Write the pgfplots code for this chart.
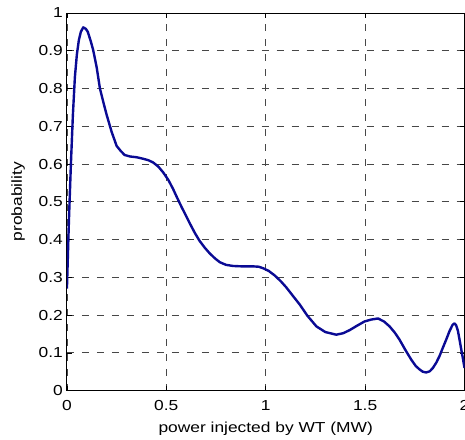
\documentclass[border=0pt]{standalone}
\usepackage{pgfplots}
\pgfplotsset{compat=1.18}
\usepackage{fontspec}
\setmainfont{Liberation Sans}[FakeStretch=1.2]
\usetikzlibrary{calc}
\definecolor{curveblue}{rgb}{0.04,0.04,0.58}
\begin{document}
\begin{tikzpicture}
\begin{axis}[
  name=ax,
  scale only axis,
  width=398pt, height=378pt,
  xmin=0, xmax=2, ymin=0, ymax=1,
  xtick={0,0.5,...,2}, ytick={0,0.1,...,1},
  xticklabels={0,0.5,1,1.5,2},
  yticklabels={0,0.1,0.2,0.3,0.4,0.5,0.6,0.7,0.8,0.9,1},
  tick align=inside,
  major tick length=5pt,
  tick style={black, line width=0.6pt},
  axis line style={black, line width=0.9pt},
  grid=major,
  major grid style={black!72, line width=0.7pt, dash pattern=on 7pt off 8pt},
  tick label style={font=\fontsize{14.5}{17}\selectfont},
  label style={font=\fontsize{14.5}{17}\selectfont},
  xticklabel style={overlay, anchor=base, yshift=-20pt},
  yticklabel style={xshift=-0.5pt},
  xlabel={power injected by WT (MW)},
  ylabel={probability},
  xlabel style={at={(axis description cs:0.5,-0.1111)}, anchor=base},
  ylabel style={at={(axis description cs:-0.1131,0.5)}, anchor=base},
  clip=true,
]
\addplot[curveblue, line width=2.4pt, line join=round] coordinates {
(0,0.27) (0.01,0.45) (0.02,0.60) (0.03,0.73) (0.04,0.83) (0.05,0.89)
(0.06,0.928) (0.07,0.950) (0.082,0.962) (0.095,0.958) (0.105,0.950)
(0.12,0.925) (0.132,0.902) (0.15,0.855) (0.166,0.80) (0.185,0.76)
(0.2,0.73) (0.225,0.685) (0.25,0.648) (0.27,0.635) (0.29,0.624)
(0.317,0.620) (0.35,0.618) (0.383,0.614) (0.41,0.610) (0.434,0.604)
(0.46,0.593) (0.484,0.578) (0.51,0.558) (0.534,0.534) (0.555,0.510)
(0.576,0.487) (0.598,0.464) (0.618,0.443) (0.643,0.418) (0.668,0.396)
(0.694,0.378) (0.719,0.363) (0.745,0.350) (0.769,0.340) (0.8,0.333)
(0.836,0.330) (0.88,0.329) (0.936,0.329) (0.965,0.328) (0.987,0.324)
(1.015,0.317) (1.045,0.305) (1.075,0.290) (1.104,0.273) (1.135,0.252)
(1.171,0.228) (1.21,0.198) (1.255,0.170) (1.30,0.155) (1.355,0.148)
(1.39,0.152) (1.422,0.160) (1.46,0.172) (1.497,0.183) (1.53,0.188)
(1.565,0.191) (1.595,0.183) (1.623,0.170) (1.65,0.153) (1.673,0.135)
(1.70,0.110) (1.732,0.082) (1.755,0.065) (1.774,0.056) (1.79,0.050)
(1.807,0.048) (1.825,0.051) (1.841,0.060) (1.858,0.074) (1.874,0.091)
(1.89,0.112) (1.908,0.135) (1.925,0.158) (1.94,0.174) (1.95,0.178)
(1.958,0.173) (1.967,0.158) (1.975,0.135) (1.985,0.105) (1.992,0.085)
(2.0,0.06)
};
\end{axis}
\pgfresetboundingbox
\path[use as bounding box] ($(ax.south west)+(-67pt,-49pt)$) rectangle ($(ax.north east)+(0.5pt,13pt)$);
\end{tikzpicture}
\end{document}
